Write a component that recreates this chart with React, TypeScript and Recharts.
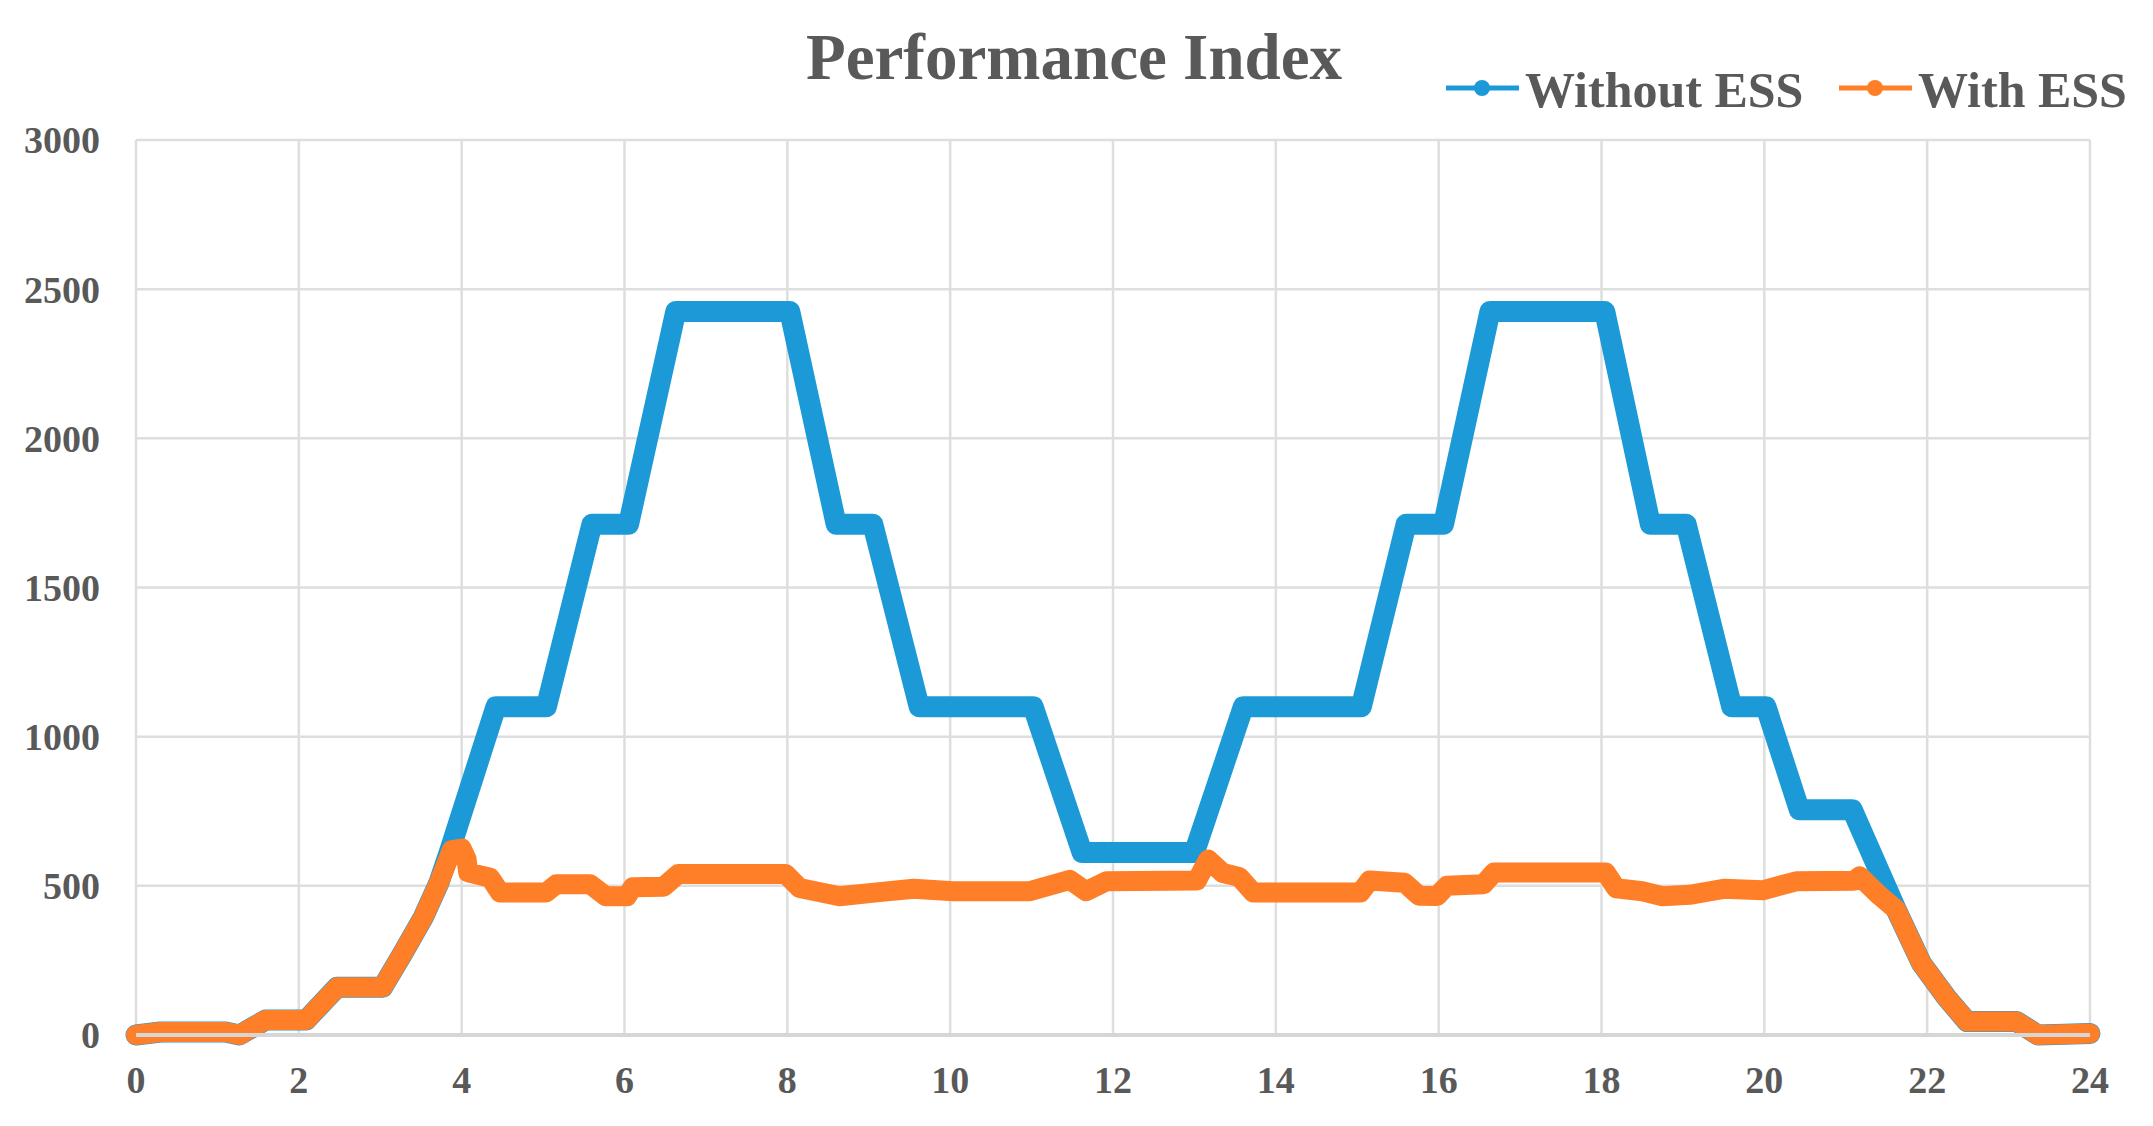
import React from 'react';
import { LineChart, Line, XAxis, YAxis, CartesianGrid, Legend } from 'recharts';

// hours / values (breakpoints of each curve)
const withoutHours = [0, 0.3, 1.1, 1.27, 1.59, 2.09, 2.47, 3.03, 3.28, 3.53, 3.72, 3.85, 4.42, 5.04, 5.6, 6.05, 6.63, 8.03, 8.6, 9.05, 9.62, 11.02, 11.62, 13.0, 13.6, 15.05, 15.6, 16.06, 16.63, 18.04, 18.6, 19.04, 19.6, 20.02, 20.43, 21.08, 21.62, 21.93, 22.24, 22.49, 23.1, 23.36, 24];
const withoutValues = [0, 10, 10, 0, 50, 50, 160, 160, 275, 395, 510, 615, 1100, 1100, 1712, 1712, 2425, 2425, 1712, 1712, 1100, 1100, 612, 612, 1100, 1100, 1712, 1712, 2425, 2425, 1712, 1712, 1100, 1100, 755, 755, 420, 240, 125, 45, 45, 0, 5];

const withHours = [0, 0.3, 1.1, 1.27, 1.59, 2.09, 2.47, 3.03, 3.28, 3.53, 3.72, 3.88, 4.0, 4.06, 4.08, 4.35, 4.47, 5.04, 5.16, 5.58, 5.77, 6.03, 6.1, 6.48, 6.66, 7.98, 8.15, 8.64, 9.1, 9.55, 10.04, 10.98, 11.47, 11.67, 11.92, 13.03, 13.17, 13.35, 13.55, 13.72, 15.04, 15.15, 15.58, 15.76, 15.98, 16.1, 16.55, 16.68, 18.05, 18.18, 18.5, 18.75, 19.08, 19.5, 19.98, 20.39, 21.1, 21.17, 21.42, 21.62, 21.93, 22.24, 22.49, 23.1, 23.36, 24];
const withValues = [0, 10, 10, 0, 50, 50, 160, 160, 275, 395, 510, 620, 625, 590, 545, 527, 478, 478, 505, 505, 465, 465, 495, 497, 540, 540, 493, 465, 478, 490, 482, 482, 520, 482, 515, 518, 588, 543, 530, 478, 478, 518, 510, 467, 466, 500, 505, 545, 545, 492, 482, 465, 470, 490, 485, 515, 517, 532, 466, 420, 240, 125, 45, 45, 0, 5];

const seriesNames = ['Without ESS', 'With ESS'];
const xTicks = [0, 2, 4, 6, 8, 10, 12, 14, 16, 18, 20, 22, 24];
const yTicks = [0, 500, 1000, 1500, 2000, 2500, 3000];

const FONT = "'Liberation Serif', 'Times New Roman', serif";
const TEXT = '#595959';
const BLUE = '#1c9ad7';
const ORANGE = '#fe7f28';

const withoutData = withoutHours.map((h, i) => ({ hour: h, value: withoutValues[i] }));
const withData = withHours.map((h, i) => ({ hour: h, value: withValues[i] }));

const tickStyle = { fontFamily: FONT, fontSize: 38, fontWeight: 700, fill: TEXT };

function LegendContent(props: any) {
  const items = [...(props.payload || [])].sort(
    (a: any, b: any) => seriesNames.indexOf(a.value) - seriesNames.indexOf(b.value)
  );
  const offsets = [0, 393];
  return (
    <svg width={713} height={70} style={{ display: 'block' }}>
      {items.map((it: any, i: number) => {
        const x = offsets[i] ?? i * 393;
        return (
          <g key={it.value}>
            <line x1={x + 6} x2={x + 79} y1={35} y2={35} stroke={it.color} strokeWidth={5} />
            <circle cx={x + 42} cy={35} r={8} fill={it.color} />
            <text x={x + 85} y={54} fontFamily={FONT} fontSize={50} fontWeight={700} fill={TEXT}>
              {it.value}
            </text>
          </g>
        );
      })}
    </svg>
  );
}

export default function App() {
  return (
    <div style={{ position: 'absolute', left: 0, top: 0, width: 2153, height: 1126, background: '#fff' }}>
      <div
        style={{
          position: 'absolute', left: 674, top: 25, width: 800, textAlign: 'center',
          fontFamily: FONT, fontSize: 65, fontWeight: 700, color: TEXT, lineHeight: '65px',
        }}
      >
        Performance Index
      </div>
      <LineChart width={2153} height={1126} margin={{ top: 140, right: 63, bottom: 31, left: 36 }}>
        <CartesianGrid stroke="#dedede" strokeWidth={2.5} />
        <XAxis
          dataKey="hour" type="number" domain={[0, 24]} ticks={xTicks}
          height={60} tickLine={false} tickSize={0} tickMargin={31}
          axisLine={{ stroke: '#d6d6d6', strokeWidth: 4 }}
          tick={tickStyle}
        />
        <YAxis
          type="number" domain={[0, 3000]} ticks={yTicks} width={100}
          axisLine={false} tickLine={false} tickSize={0} tickMargin={36}
          tick={tickStyle}
        />
        <Legend
          layout="horizontal" verticalAlign="middle" align="center"
          wrapperStyle={{ left: 1440, top: 53, width: 713, height: 70 }}
          content={LegendContent}
        />
        <Line
          data={withoutData} dataKey="value" name={seriesNames[0]} type="linear"
          stroke={BLUE} strokeWidth={21} strokeLinejoin="round" strokeLinecap="round"
          dot={false} activeDot={false} isAnimationActive={false}
        />
        <Line
          data={withData} dataKey="value" name={seriesNames[1]} type="linear"
          stroke={ORANGE} strokeWidth={20} strokeLinejoin="round" strokeLinecap="round"
          dot={false} activeDot={false} isAnimationActive={false}
        />
      </LineChart>
    </div>
  );
}
